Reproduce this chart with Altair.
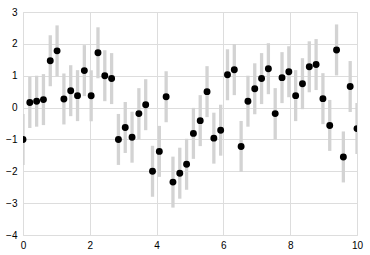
import altair as alt
import numpy as np
import pandas as pd

x = list(np.linspace(0, 10, 50))
y = [-1.0, 0.16, 0.20, 0.25, 1.47, 1.78, 0.27, 0.53, 0.375, 1.16,
     0.37, 1.72, 1.0, 0.91, -1.0, -0.625, -0.93, -0.19, 0.09, -2.0,
     -1.375, 0.34, -2.34, -2.06, -1.78, -0.81, -0.41, 0.5, -0.96, -0.71,
     1.03, 1.19, -1.22, 0.2, 0.59, 0.91, 1.22, -0.19, 0.94, 1.125,
     0.375, 0.75, 1.28, 1.35, 0.28, -0.56, 1.81, -1.55, 0.66, -0.66]
dy = 0.8
xticks = [0, 2, 4, 6, 8, 10]
yticks = [-4, -3, -2, -1, 0, 1, 2, 3]

df = pd.DataFrame({"x": x, "y": y})
df["lo"] = df["y"] - dy
df["hi"] = df["y"] + dy

xs = alt.Scale(domain=[0, 10], nice=False, zero=False)
ys = alt.Scale(domain=[-4, 3], nice=False, zero=False)
xa = alt.Axis(values=xticks, title=None, grid=True, ticks=False,
              domain=False, labelPadding=5, format="d", labelFlush=False,
              labelOverlap=False, labelBound=False)
ya = alt.Axis(values=yticks, title=None, grid=True, ticks=False,
              domain=False, labelPadding=6, format="d", labelFlush=False,
              labelOverlap=False, labelBound=False)

bars = alt.Chart(df).mark_rule(color="#d3d3d3", strokeWidth=3.3, clip=True).encode(
    x=alt.X("x:Q", scale=xs, axis=xa),
    y=alt.Y("lo:Q", scale=ys, axis=ya),
    y2="hi:Q",
)
pts = alt.Chart(df).mark_point(filled=True, color="black", size=48, opacity=1, clip=True).encode(
    x=alt.X("x:Q", scale=xs, axis=xa),
    y=alt.Y("y:Q", scale=ys, axis=ya),
)

chart = (bars + pts).properties(
    width=334, height=223,
    autosize="none",
    padding={"left": 23, "top": 12, "right": 13, "bottom": 20},
).configure_view(stroke="#cccccc", strokeWidth=1).configure_axis(
    gridColor="#dedede", gridWidth=1, labelColor="#333333",
    labelFont="Liberation Sans", labelFontSize=10,
).configure(background="white")

chart.save("out.html", embed_options={"renderer": "svg", "actions": False})
